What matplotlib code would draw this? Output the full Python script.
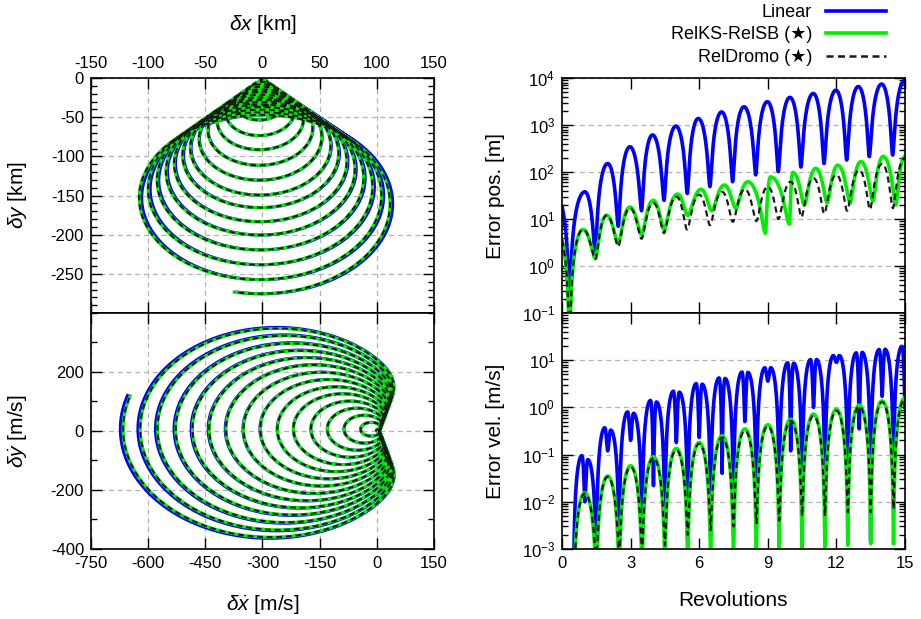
import numpy as np
import matplotlib
matplotlib.use("Agg")
import matplotlib.pyplot as plt
from matplotlib.ticker import MultipleLocator, LogLocator, NullFormatter, FixedLocator
from matplotlib.lines import Line2D

plt.rcParams['font.family'] = ['Liberation Sans', 'DejaVu Sans']
plt.rcParams['mathtext.fontset'] = 'custom'
plt.rcParams['mathtext.rm'] = 'Liberation Sans'
plt.rcParams['mathtext.it'] = 'Liberation Sans:italic'
plt.rcParams['mathtext.bf'] = 'Liberation Sans:bold'
plt.rcParams['axes.unicode_minus'] = False

# ---------------- data ----------------
# relative orbit: one value per revolution (0..15)
revs = np.arange(16)
loop_bottom_km = [0, -18, -37, -54, -74, -92, -112, -131, -150, -166, -184, -201, -220, -239, -258, -276]
loop_shift_lin_km = [0, 0, 0, 0, 0.1, 0.2, 0.4, 0.5, 0.7, 0.9, 1.1, 1.3, 1.5, 1.8, 2.1, 2.4]
cone_ratio = 0.70          # loop radius / depth of loop centre
vel_left_ms = [0, -44, -88, -132, -175, -221, -263, -308, -352, -398, -442, -486, -530, -578, -623, -668]
vel_scale_lin = [1, 1, 1, 1, 1, 1.001, 1.002, 1.003, 1.004, 1.005, 1.006, 1.007, 1.008, 1.009, 1.01, 1.011]
vel_knot_ms = 8            # where all velocity loops meet on the right

# position error [m]: alternating extrema (time in revolutions, value)
pos_lin_t = [0.33, 1.0, 1.46, 2.0, 2.46, 2.97, 3.48, 3.96, 4.46, 4.98, 5.48, 5.96, 6.47, 6.98, 7.46,
             7.96, 8.47, 8.98, 9.46, 9.97, 10.45, 10.99, 11.46, 11.98, 12.45, 12.96, 13.44, 13.98, 14.46, 15.0]
pos_lin_v = [0.01, 38, 1.6, 152, 7, 345, 15, 615, 25, 950, 35, 1380, 49, 1900, 62,
             2450, 87, 3150, 102, 3880, 128, 4700, 152, 5500, 180, 6600, 213, 7450, 230, 9100]
pos_ks_t = [0.33, 0.92, 1.46, 1.95, 2.46, 2.97, 3.48, 3.99, 4.46, 5.05, 5.5, 6.08, 6.55, 7.1, 7.6,
            8.12, 8.9, 9.12, 9.95, 10.1, 10.6, 11.1, 11.6, 12.06, 12.6, 13.07, 13.6, 14.05, 14.6, 15.0]
pos_ks_v = [0.01, 6, 1.45, 12, 3, 18, 4.6, 25, 6, 34, 12, 43, 15, 53, 17,
            62, 5, 79, 7.8, 98, 20, 120, 22, 140, 22, 167, 24, 215, 20, 215]
pos_dr_t = [0.33, 0.92, 1.46, 1.95, 2.46, 2.97, 3.48, 3.99, 4.46, 5.0, 5.47, 6.0, 6.47, 7.0, 7.47,
            8.0, 8.5, 9.0, 9.47, 10.0, 10.47, 11.0, 11.47, 12.0, 12.47, 13.0, 13.47, 14.0, 14.47, 15.0]
pos_dr_v = [0.01, 6, 1.4, 12, 2.6, 17, 3.8, 22, 5, 30, 6, 33, 7.4, 38, 8.7,
            43, 9, 49, 10, 62, 11, 74, 13, 87, 15, 110, 16, 150, 17, 200]

# velocity error [m/s]: peaks at whole revolutions, minima at half revolutions
vel_lin_peak_a = [0.095, 0.37, 0.80, 1.40, 2.2, 3.2, 4.2, 5.6, 6.9, 8.8, 10.3, 12.5, 14.3, 16.8, 19.6]
vel_lin_peak_b = [0.078, 0.33, 0.75, 1.30, 2.1, 3.1, 4.1, 5.5, 6.9, 8.6, 10.3, 12.5, 14.6, 17.0]
vel_lin_notch = [0.01, 0.12, 0.2, 0.022, 0.18, 0.23, 0.04, 0.5, 3.6, 0.12, 1.0, 9.0, 0.35, 1.7, 1.0]
vel_lin_min = [1e-5, 6e-4, 8e-4, 1.5e-3, 2e-3, 3e-3, 4e-3, 6e-3, 8e-3, 1e-2, 1.2e-2, 1.5e-2, 1.8e-2, 1.5e-3, 2.2e-2]
vel_ks_peak = [0.0155, 0.035, 0.058, 0.09, 0.135, 0.18, 0.25, 0.35, 0.43, 0.56, 0.72, 0.91, 1.12, 1.37, 1.6]
vel_ks_min = [1e-5, 3e-4, 4e-4, 5e-4, 6e-4, 7e-4, 8e-4, 8e-4, 9e-4, 9e-4, 9e-4, 1.1e-3, 1.2e-3, 1.3e-3, 1.3e-3]
vel_dr_peak = [0.015, 0.034, 0.055, 0.085, 0.125, 0.17, 0.23, 0.32, 0.40, 0.52, 0.66, 0.85, 1.05, 1.3, 1.5]
vel_dr_min = [1e-5, 6e-4, 8e-4, 9e-4, 1.2e-3, 2e-3, 2.5e-3, 3e-3, 3.5e-3, 4e-3, 5e-3, 5e-3, 6e-3, 6e-3, 7e-3]

C_LIN = '#0000ff'
C_KS = '#00ee00'
C_DR = '#1a1a1a'
DASH = (2.8, 1.8)


def arches(t, kt, kv):
    kt = np.asarray(kt, float)
    kv = np.asarray(kv, float)
    i = np.clip(np.searchsorted(kt, t, side='right') - 1, 0, len(kt) - 2)
    s = (t - kt[i]) / (kt[i + 1] - kt[i])
    return kv[i] + (kv[i + 1] - kv[i]) * (1 - np.cos(np.pi * s)) / 2


def orbit(t, shift):
    phi = 2 * np.pi * t + 0.22
    depth = -np.interp(t, revs, loop_bottom_km) / (1 + cone_ratio)
    rad = cone_ratio * depth
    x = -rad * np.sin(phi) + np.interp(t, revs, shift)
    y = -depth - rad * np.cos(phi)
    return x, y


def velocity(t, scale):
    psi = 2 * np.pi * t + 0.33
    a = -np.interp(t, revs, vel_left_ms) / 2 * np.interp(t, revs, scale)
    c = np.cos(psi)
    half = (1 - c) / 2
    # loop through the knot on the right, bulging out above and below it
    bulge = 0.3 * a * (1 - np.exp(-14 * (1 + c))) * half
    vx = -a * (1 + c) + bulge + vel_knot_ms * half
    vy = 1.1 * a * np.sin(psi)
    return vx, vy


t = np.linspace(0, 15, 12000)

fig = plt.figure(figsize=(9.21, 6.19), dpi=100)
ax1 = fig.add_axes([0.0988, 0.4943, 0.3724, 0.3796])
ax2 = fig.add_axes([0.0988, 0.1131, 0.3724, 0.3813])
ax3 = fig.add_axes([0.6102, 0.4943, 0.3724, 0.3796])
ax4 = fig.add_axes([0.6102, 0.1131, 0.3724, 0.3813])

for ax in [ax1, ax2, ax3, ax4]:
    ax.tick_params(which='both', direction='in', top=True, right=True, labelsize=12, width=1)
    ax.tick_params(which='major', length=8, pad=5)
    ax.tick_params(which='minor', length=4)
    for sp in ax.spines.values():
        sp.set_linewidth(1.2)

# top left: relative position
x, y = orbit(t, [0] * 16)
xl, yl = orbit(t, loop_shift_lin_km)
ax1.plot(xl, yl, color=C_LIN, lw=2.2)
ax1.plot(x, y, color=C_KS, lw=2.2)
ax1.plot(x, y, color=C_DR, lw=1.5, dashes=DASH)
ax1.set_xlim(-150, 150)
ax1.set_ylim(-300, 0)
ax1.set_xticks(np.arange(-150, 151, 50))
ax1.set_yticks(np.arange(-250, 1, 50))
ax1.yaxis.set_minor_locator(MultipleLocator(10))
ax1.tick_params(labeltop=True, labelbottom=False)
ax1.grid(True, color='#b4b4b4', ls=(0, (4, 3)), lw=0.9)
ax1.xaxis.set_label_position('top')
ax1.set_xlabel(r'$\delta x$ [km]', fontsize=15)
ax1.xaxis.set_label_coords(0.5, 1.205)
ax1.set_ylabel(r'$\delta y$ [km]', fontsize=15)
ax1.yaxis.set_label_coords(-0.18, 0.5)

# bottom left: relative velocity
vx, vy = velocity(t, [1] * 16)
vxl, vyl = velocity(t, vel_scale_lin)
ax2.plot(vxl, vyl, color=C_LIN, lw=2.2)
ax2.plot(vx, vy, color=C_KS, lw=2.2)
ax2.plot(vx, vy, color=C_DR, lw=1.5, dashes=DASH)
ax2.set_xlim(-750, 150)
ax2.set_ylim(-400, 400)
ax2.set_xticks(np.arange(-750, 151, 150))
ax2.set_yticks([-400, -200, 0, 200])
ax2.yaxis.set_minor_locator(MultipleLocator(100))
ax2.grid(True, color='#b4b4b4', ls=(0, (4, 3)), lw=0.9)
ax2.set_xlabel(r'$\delta\dot{x}$ [m/s]', fontsize=15)
ax2.xaxis.set_label_coords(0.5, -0.185)
ax2.set_ylabel(r'$\delta\dot{y}$ [m/s]', fontsize=15)
ax2.yaxis.set_label_coords(-0.18, 0.5)

# top right: position error
ax3.plot(t, arches(t, pos_lin_t, pos_lin_v), color=C_LIN, lw=2.6)
ax3.plot(t, arches(t, pos_ks_t, pos_ks_v), color=C_KS, lw=2.6)
ax3.plot(t, arches(t, pos_dr_t, pos_dr_v), color=C_DR, lw=1.6, dashes=DASH)
ax3.set_yscale('log')
ax3.set_ylim(1e-1, 1e4)
ax3.set_xlim(0, 15)
ax3.set_xticks(np.arange(0, 16, 3))
ax3.yaxis.set_major_locator(FixedLocator([1e-1, 1e0, 1e1, 1e2, 1e3, 1e4]))
ax3.yaxis.set_minor_locator(LogLocator(base=10, subs=np.arange(2, 10)))
ax3.yaxis.set_minor_formatter(NullFormatter())
ax3.tick_params(labelbottom=False)
ax3.grid(True, axis='y', color='#b4b4b4', ls=(0, (4, 3)), lw=0.9)
ax3.set_ylabel('Error pos. [m]', fontsize=15)
ax3.yaxis.set_label_coords(-0.165, 0.5)

# bottom right: velocity error
lt = [0.5]
lv = [vel_lin_min[0]]
for k in range(1, 15):
    lt += [k - 0.13, k, k + 0.13, k + 0.5]
    lv += [vel_lin_peak_a[k - 1], vel_lin_notch[k - 1], vel_lin_peak_b[k - 1], vel_lin_min[k]]
lt += [14.87, 15.0]
lv += [vel_lin_peak_a[14], vel_lin_notch[14]]

kt = []
ksv = []
drv = []
for k in range(15):
    kt += [k + 0.5, k + 1.0]
    ksv += [vel_ks_min[k], vel_ks_peak[k]]
    drv += [vel_dr_min[k], vel_dr_peak[k]]

tv = t[t >= 0.5]
ax4.plot(tv, arches(tv, lt, lv), color=C_LIN, lw=2.6)
ax4.plot(tv, arches(tv, kt, ksv), color=C_KS, lw=2.6)
ax4.plot(tv, arches(tv, kt, drv), color=C_DR, lw=1.6, dashes=DASH)
ax4.set_yscale('log')
ax4.set_ylim(1e-3, 1e2)
ax4.set_xlim(0, 15)
ax4.set_xticks(np.arange(0, 16, 3))
ax4.yaxis.set_major_locator(FixedLocator([1e-3, 1e-2, 1e-1, 1e0, 1e1]))
ax4.yaxis.set_minor_locator(LogLocator(base=10, subs=np.arange(2, 10)))
ax4.yaxis.set_minor_formatter(NullFormatter())
ax4.grid(True, axis='y', color='#b4b4b4', ls=(0, (4, 3)), lw=0.9)
ax4.set_ylabel('Error vel. [m/s]', fontsize=15)
ax4.yaxis.set_label_coords(-0.165, 0.5)
ax4.set_xlabel('Revolutions', fontsize=15)
ax4.xaxis.set_label_coords(0.5, -0.18)

handles = [Line2D([], [], color=C_LIN, lw=2.6),
           Line2D([], [], color=C_KS, lw=2.6),
           Line2D([], [], color=C_DR, lw=1.8, dashes=DASH)]
labels = ['Linear', 'RelKS-RelSB (\u2605)', 'RelDromo (\u2605)']
fig.legend(handles, labels, loc='upper right', bbox_to_anchor=(886 / 921, 1 - 4 / 619),
           markerfirst=False, frameon=False, fontsize=13, handlelength=3.3,
           handletextpad=0.8, labelspacing=0.3, borderpad=0, borderaxespad=0)

fig.savefig('out.png', dpi=100)
